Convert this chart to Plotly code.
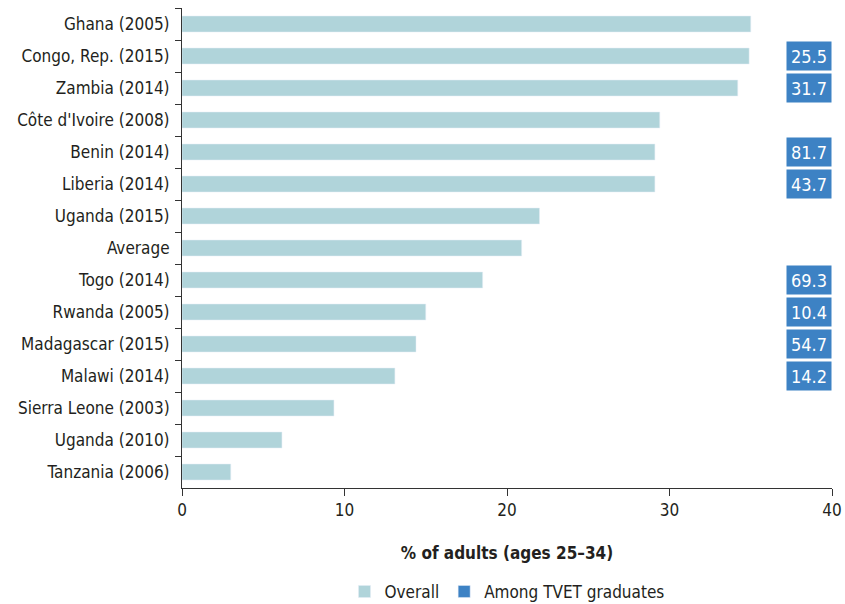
import plotly.graph_objects as go

categories = ["Ghana (2005)", "Congo, Rep. (2015)", "Zambia (2014)", "Côte d'Ivoire (2008)",
              "Benin (2014)", "Liberia (2014)", "Uganda (2015)", "Average", "Togo (2014)",
              "Rwanda (2005)", "Madagascar (2015)", "Malawi (2014)", "Sierra Leone (2003)",
              "Uganda (2010)", "Tanzania (2006)"]
overall = [35.0, 34.9, 34.2, 29.4, 29.1, 29.1, 22.0, 20.9, 18.5, 15.0, 14.4, 13.1, 9.35, 6.15, 3.0]
tvet = [None, 25.5, 31.7, None, 81.7, 43.7, None, None, 69.3, 10.4, 54.7, 14.2, None, None, None]
x_ticks = [0, 10, 20, 30, 40]

BAR = "#b0d4da"
BOX = "#3d82c4"
TXT = "#231f20"
FONT = "DejaVu Sans Condensed"

fig = go.Figure()
fig.add_trace(go.Bar(x=overall, y=categories, orientation="h", marker_color=BAR,
                     width=0.5, name="Overall", hoverinfo="x+y"))
fig.add_trace(go.Bar(x=[None], y=[categories[0]], orientation="h", marker_color=BOX,
                     name="Among TVET graduates", showlegend=True))

for c, v in zip(categories, tvet):
    if v is None:
        continue
    fig.add_annotation(x=1, xref="paper", xanchor="right", y=c, yref="y",
                       text=f"{v:.1f}", showarrow=False, bgcolor=BOX, width=40, height=24,
                       borderpad=2, font=dict(family=FONT, size=18, color="white"))

fig.update_layout(
    width=845, height=604,
    margin=dict(l=182, r=13, t=8, b=116, autoexpand=False),
    plot_bgcolor="white", paper_bgcolor="white",
    font=dict(family=FONT, size=17, color=TXT),
    barmode="overlay",
    showlegend=True,
    legend=dict(orientation="h", x=0.5, xanchor="center", y=0.02, yanchor="middle",
                yref="container",
                font=dict(size=17, color=TXT), traceorder="normal", itemwidth=30),
)
fig.update_xaxes(range=[0, 40], tickvals=x_ticks, showgrid=False, zeroline=False,
                 showline=True, linecolor="#333", linewidth=1, ticks="outside", ticklen=7,
                 tickcolor="#333", tickfont=dict(size=17, color=TXT), automargin=False,
                 title=dict(text="<b>% of adults (ages 25–34)</b>", standoff=27,
                            font=dict(size=17, color=TXT)))
fig.update_yaxes(categoryorder="array", categoryarray=categories, autorange="reversed",
                 showgrid=False, showline=True, linecolor="#333", linewidth=1,
                 ticks="outside", ticklen=6, tickcolor="#333", tickson="boundaries",
                 tickfont=dict(size=17, color=TXT), ticklabelstandoff=8, automargin=False)

fig.write_html("out.html", config={"displayModeBar": False},
               post_script="document.body.style.margin='0';document.body.style.overflow='hidden';")
